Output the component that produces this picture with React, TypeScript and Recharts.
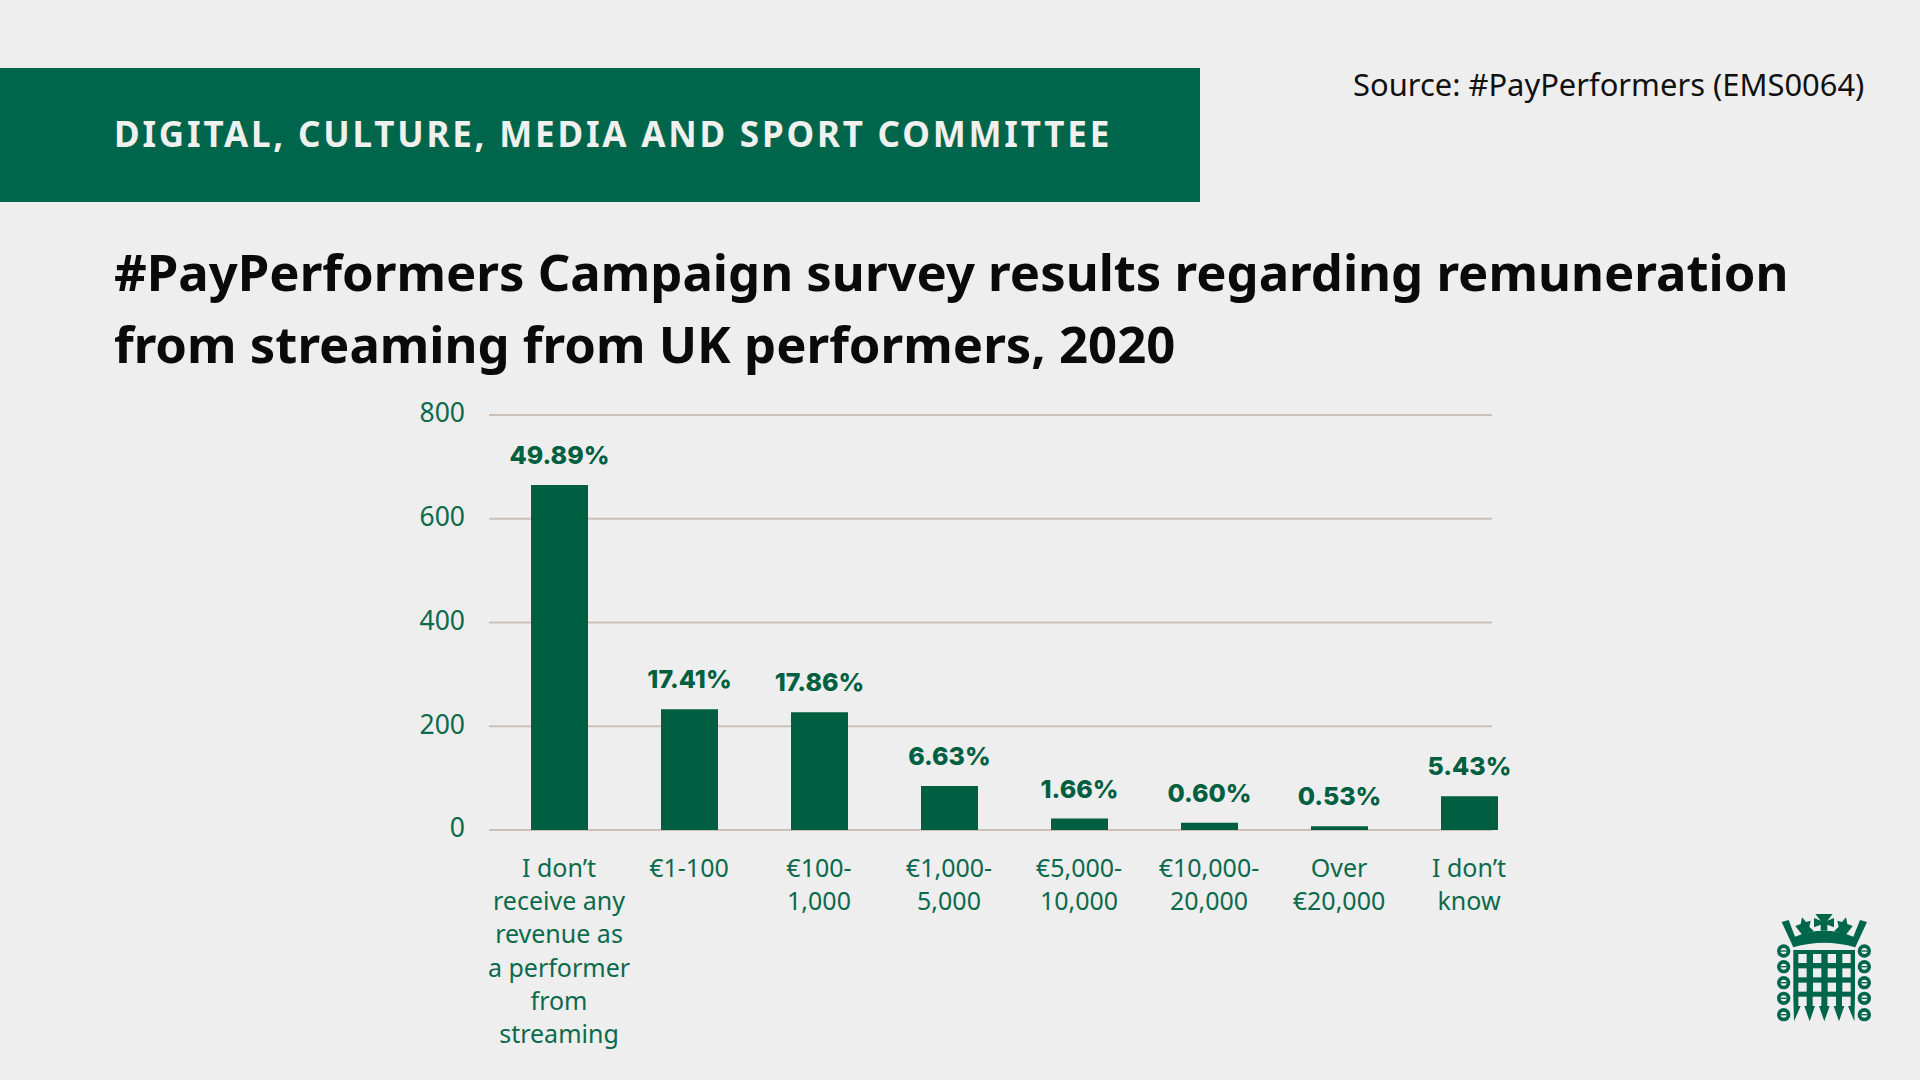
import { Bar, BarChart, CartesianGrid, LabelList, XAxis, YAxis } from "recharts";

const categories = [
  "I don’t\nreceive any\nrevenue as\na performer\nfrom\nstreaming",
  "€1-100",
  "€100-\n1,000",
  "€1,000-\n5,000",
  "€5,000-\n10,000",
  "€10,000-\n20,000",
  "Over\n€20,000",
  "I don’t\nknow",
];
// bar heights as drawn, in respondents
const respondents = [665, 233, 227, 85, 22, 14, 7, 65];
const shares = ["49.89%", "17.41%", "17.86%", "6.63%", "1.66%", "0.60%", "0.53%", "5.43%"];
const yTicks = [0, 200, 400, 600, 800];

const rows = categories.map((category, i) => ({
  category,
  respondents: respondents[i],
  share: shares[i],
}));

const FONT = "'Noto Sans', sans-serif";
const PAGE = "#eeeeee";
const GREEN = "#005f40";
const BAND = "#00664b";
const TICK_GREEN = "#0c6a4c";
const GRID = "#cbbfb6";

function CategoryTick({ x, y, payload }: { x?: number; y?: number; payload?: { value: string } }) {
  const lines = (payload?.value ?? "").split("\n");
  return (
    <text x={x} y={y} textAnchor="middle" fill={TICK_GREEN} fontFamily={FONT} fontSize={25}>
      {lines.map((line, i) => (
        <tspan key={i} x={x} dy={i === 0 ? 39 : 33.2}>
          {line}
        </tspan>
      ))}
    </text>
  );
}

// portcullis mark, bottom right of the slide
function Portcullis() {
  const chainY = [183, 230, 278, 325, 374];
  const holesX = [175, 219, 263, 307];
  const holesY = [192, 235, 278];
  const spikes = [209, 253, 297];
  return (
    <svg
      viewBox="0 0 480 480"
      width={160}
      height={160}
      style={{ position: "absolute", left: 1740, top: 890 }}
    >
      <g fill={BAND}>
        <path d="M125 96 L146 90 L165 140 Q252 105 340 140 L360 90 L381 96 L346 172 Q252 145 160 172 Z" />
        <path d="M226 72 H278 L262 92 L282 84 V112 L262 104 V122 H242 V104 L222 112 V84 L242 92 Z" />
        <path d="M186 82 L198 96 L212 92 L208 110 L222 124 L200 130 L190 138 L178 124 L166 108 L182 102 Z" />
        <path d="M318 82 L306 96 L292 92 L296 110 L282 124 L304 130 L314 138 L326 124 L338 108 L322 102 Z" />
        <rect x={160} y={180} width={185} height={140} />
        {spikes.map((c) => (
          <path key={c} d={`M${c - 9} 318 H${c + 9} V348 H${c + 16} L${c} 394 L${c - 16} 348 H${c - 9} Z`} />
        ))}
        <path d="M160 318 H175 V348 H182 L162 394 Z" />
        <path d="M345 318 H332 V348 H324 L343 394 Z" />
      </g>
      {holesY.map((y) =>
        holesX.map((x) => <rect key={`${x}-${y}`} x={x} y={y} width={25} height={27} fill={PAGE} />),
      )}
      {[131, 373].map((x) =>
        chainY.map((y) => (
          <g key={`${x}-${y}`}>
            <circle cx={x} cy={y} r={14.5} fill="none" stroke={BAND} strokeWidth={11} />
            <rect x={x - 9} y={y - 2} width={18} height={4} fill={BAND} />
          </g>
        )),
      )}
    </svg>
  );
}

export default function App() {
  return (
    <div
      style={{
        position: "absolute",
        left: 0,
        top: 0,
        width: 1920,
        height: 1080,
        background: PAGE,
        overflow: "hidden",
        fontFamily: FONT,
      }}
    >
      <div style={{ position: "absolute", left: 0, top: 68, width: 1200, height: 134, background: BAND }} />
      <div
        style={{
          position: "absolute",
          left: 114,
          top: 110,
          lineHeight: "48px",
          fontSize: 35,
          fontWeight: 700,
          letterSpacing: 2.8,
          color: "#f0f0ee",
          whiteSpace: "nowrap",
        }}
      >
        DIGITAL, CULTURE, MEDIA AND SPORT COMMITTEE
      </div>
      <div
        style={{
          position: "absolute",
          left: 1353,
          top: 63,
          lineHeight: "42px",
          fontSize: 30.9,
          color: "#111",
          whiteSpace: "nowrap",
        }}
      >
        Source: #PayPerformers (EMS0064)
      </div>
      <div
        style={{
          position: "absolute",
          left: 114,
          top: 236,
          fontSize: 50.8,
          lineHeight: "72px",
          fontWeight: 700,
          color: "#0a0a0a",
          whiteSpace: "nowrap",
        }}
      >
        #PayPerformers Campaign survey results regarding remuneration
        <br />
        from streaming from UK performers, 2020
      </div>
      <div style={{ position: "absolute", left: 0, top: 0 }}>
        <BarChart
          width={1920}
          height={1080}
          data={rows}
          margin={{ top: 415, right: 386, bottom: 20, left: 414 }}
        >
          <CartesianGrid vertical={false} x={489} width={1003} stroke={GRID} strokeWidth={2} />
          <XAxis
            dataKey="category"
            interval={0}
            height={230}
            axisLine={false}
            tickLine={false}
            tick={<CategoryTick />}
          />
          <YAxis
            width={80}
            domain={[0, 800]}
            ticks={yTicks}
            axisLine={false}
            tickLine={false}
            tickMargin={23}
            tick={{ fill: TICK_GREEN, fontFamily: FONT, fontSize: 26.5, dy: -2 }}
          />
          <Bar dataKey="respondents" fill={GREEN} barSize={57} isAnimationActive={false}>
            <LabelList
              dataKey="share"
              position="top"
              offset={21}
              fill={GREEN}
              fontFamily="Inter, sans-serif"
              fontSize={25}
              fontWeight={800}
            />
          </Bar>
        </BarChart>
      </div>
      <Portcullis />
    </div>
  );
}
